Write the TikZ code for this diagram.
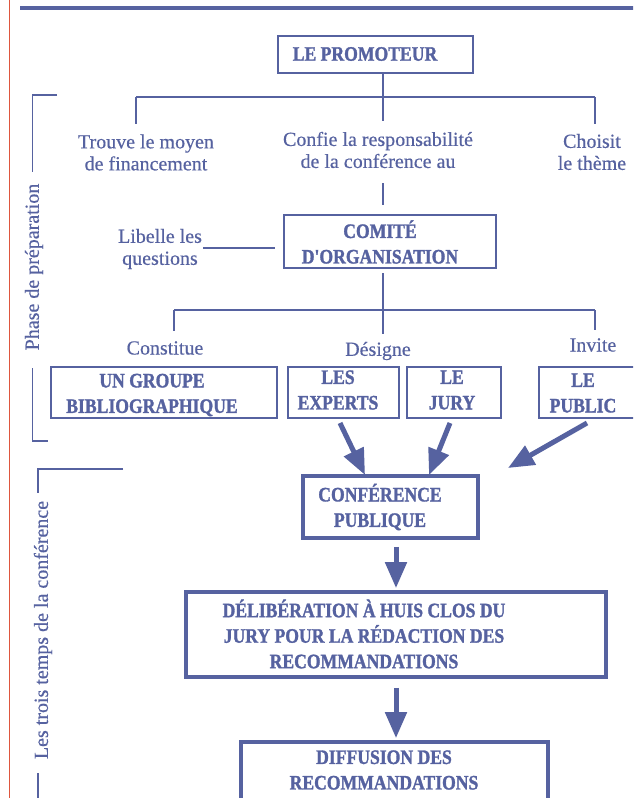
\documentclass[tikz,border=0pt]{standalone}
\usepackage{fontspec}
\setmainfont{Liberation Serif}[Ligatures=TeXOff]
\newfontfamily\plainfont{Liberation Serif}[Ligatures=TeXOff, FakeBold=0.4]
\newfontfamily\boxfont{Liberation Serif Bold}[Ligatures=TeXOff, FakeStretch=0.86, FakeBold=1.4]
\usetikzlibrary{arrows.meta}
\definecolor{dblue}{RGB}{86,98,160}
\definecolor{dred}{RGB}{222,86,62}
\tikzset{
  thinbox/.style={draw=dblue, line width=1.6pt, inner sep=0pt},
  thickbox/.style={draw=dblue, line width=3.8pt, inner sep=0pt},
  boxtext/.style={text=dblue, font=\boxfont\fontsize{20.5}{25.5}\selectfont, align=center, inner sep=0pt},
  plaintext/.style={text=dblue, font=\plainfont\fontsize{20}{22}\selectfont, align=center, inner sep=0pt},
  conn/.style={draw=dblue, line width=1.5pt},
  bigarrow/.style={draw=dblue, line width=5pt, -{Triangle[length=26pt,width=21pt]}},
}
\begin{document}
\begin{tikzpicture}[x=1pt,y=-1pt]
\clip (0,0) rectangle (633,798);
\fill[white] (0,0) rectangle (633,798);
% frame lines
\draw[dred, line width=1.2pt] (9.5,0) -- (9.5,798);
\draw[dblue, line width=4.5pt] (20,8) -- (640,8);

% boxes
\node[thinbox, minimum width=195pt, minimum height=37pt] (prom) at (375.5,54.5) {};
\node[boxtext] (promt) at (365,54) {LE PROMOTEUR};

\node[thinbox, minimum width=212pt, minimum height=53pt] (com) at (390,241.5) {};
\node[boxtext] (comt) at (380,242) {COMITÉ\\D'ORGANISATION};

\node[thinbox, minimum width=226pt, minimum height=51pt] (grp) at (164,392.5) {};
\node[boxtext] (grpt) at (152,395) {UN GROUPE\\BIBLIOGRAPHIQUE};

\node[thinbox, minimum width=111pt, minimum height=51pt] (exp) at (343.5,392.5) {};
\node[boxtext] (expt) at (338,390) {LES\\EXPERTS};

\node[thinbox, minimum width=94pt, minimum height=51pt] (jury) at (454,392.5) {};
\node[boxtext] (juryt) at (452,390) {LE\\JURY};

\node[thinbox, minimum width=104pt, minimum height=51pt] (pub) at (591,392.5) {};
\node[boxtext] (pubt) at (583,393) {LE\\PUBLIC};

\node[thickbox, minimum width=175pt, minimum height=62pt] (conf) at (390.5,507) {};
\node[boxtext] (conft) at (380,507) {CONFÉRENCE\\PUBLIQUE};

\node[thickbox, minimum width=420pt, minimum height=85pt] (delib) at (396,634.5) {};
\node[boxtext] (delibt) at (364,634) {DÉLIBÉRATION À HUIS CLOS DU\\JURY POUR LA RÉDACTION DES\\RECOMMANDATIONS};

\node[thickbox, minimum width=307pt, minimum height=64pt] (diff) at (394.5,774) {};
\node[boxtext] (difft) at (384,770) {DIFFUSION DES\\RECOMMANDATIONS};

% plain texts
\node[plaintext] (trouve) at (146,152.5) {Trouve le moyen\\de financement};
\node[plaintext] (confie) at (378,150) {Confie la responsabilité\\de la conférence au};
\node[plaintext] (choisit) at (592,152) {Choisit\\le thème};
\node[plaintext] (libelle) at (160,249) {Libelle les\\questions};
\node[plaintext] (constitue) at (165,348) {Constitue};
\node[plaintext] (designe) at (378,351) {Désigne};
\node[plaintext] (invite) at (593,345) {Invite};

% first branch
\coordinate (b1) at (383,97);
\coordinate (b1l) at (136,97);
\coordinate (b1r) at (595,97);
\draw[conn] (prom.south -| b1) -- (b1);
\draw[conn] (b1l) -- (b1r);
\draw[conn] (b1l) -- ++(0,27);
\draw[conn] (b1) -- ++(0,24);
\draw[conn] (b1r) -- ++(0,27);
\coordinate (c1) at (383,183);
\coordinate (c2) at (383,205);
\draw[conn] (c1) -- (c2);
\coordinate (l1) at (203,248);
\coordinate (l2) at (275,248);
\draw[conn] (l1) -- (l2);

% second branch
\coordinate (b2) at (383,310);
\coordinate (b2l) at (174,310);
\coordinate (b2r) at (595,310);
\coordinate (c3) at (383,273);
\draw[conn] (c3) -- (b2);
\draw[conn] (b2l) -- (b2r);
\draw[conn] (b2l) -- ++(0,21);
\draw[conn] (b2) -- ++(0,24);
\draw[conn] (b2r) -- ++(0,20);

% arrows to conference
\coordinate (a1s) at (340,423);
\coordinate (a1e) at (365,475);
\coordinate (a2s) at (450,423);
\coordinate (a2e) at (429,475);
\coordinate (a3s) at (587,423);
\coordinate (a3e) at (508,468);
\coordinate (ax) at (396,0);
\draw[bigarrow] (a1s) -- (a1e);
\draw[bigarrow] (a2s) -- (a2e);
\draw[bigarrow] (a3s) -- (a3e);
\draw[bigarrow] ([yshift=-7pt]conf.south -| ax) -- ([yshift=2pt]delib.north -| ax);
\draw[bigarrow] ([yshift=-9pt]delib.south -| ax) -- ([yshift=2pt]diff.north -| ax);

% brackets
\draw[conn] (57,95) -- (32.5,95) -- (32.5,172);
\node[plaintext, rotate=90] (phase) at (34,267) {Phase de préparation};
\draw[conn] (32.5,368) -- (32.5,441) -- (48,441);

\draw[conn] (123,469) -- (38,469) -- (38,493);
\node[plaintext, rotate=90] (trois) at (43,630) {Les trois temps de la conférence};
\draw[conn] (38,773) -- (38,800);
\end{tikzpicture}
\end{document}
